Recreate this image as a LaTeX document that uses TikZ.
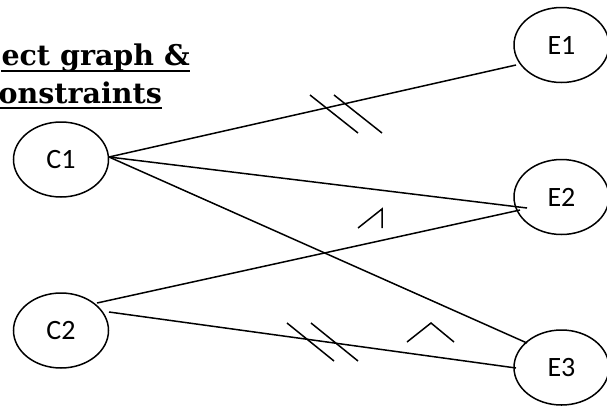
\documentclass[tikz,border=0pt]{standalone}
\usepackage{fontspec}
\setmainfont{Carlito}
\newfontfamily\titlefont{DejaVu Serif}
\usetikzlibrary{shapes.geometric}
\begin{document}
\begin{tikzpicture}[x=1pt,y=-1pt,
  oval/.style={ellipse,draw,line width=1.5pt,minimum width=95pt,minimum height=75pt,inner sep=0pt,font=\fontsize{28}{32}\selectfont},
  conn/.style={line width=1.5pt},
  tick/.style={line width=1.5pt},
  ttl/.style={inner sep=0pt,font=\titlefont\bfseries\fontsize{28.5}{33}\selectfont}]
\useasboundingbox (0,0) rectangle (607,405);
\clip (0,0) rectangle (607,405);
% title
\node[ttl,anchor=base east] (t1) at (190,65) {ect graph \&};
\node[ttl,anchor=base east] (t2) at (162,103) {onstraints};
\draw[line width=2pt] ([yshift=-6pt]t1.base west) -- ([yshift=-6pt]t1.base east);
\draw[line width=2pt] ([yshift=-5pt]t2.base west) -- ([yshift=-5pt]t2.base east);
% nodes
\node[oval] (C1) at (61,159.5) {C1};
\node[oval] (C2) at (61,330.5) {C2};
\node[oval] (E1) at (561.5,45) {E1};
\node[oval] (E2) at (561.5,197) {E2};
\node[oval] (E3) at (561.5,367.5) {E3};
% connector end points
\coordinate (c1o) at (109,157);
\coordinate (c2a) at (97,303);
\coordinate (c2b) at (109,312);
\coordinate (e1i) at (516,65);
\coordinate (e2a) at (527,208);
\coordinate (e2b) at (520,210);
\coordinate (e3a) at (527,343);
\coordinate (e3b) at (516,368);
% connectors
\draw[conn] (c1o) -- (e1i);
\draw[conn] (c1o) -- (e2a);
\draw[conn] (c1o) -- (e3a);
\draw[conn] (c2a) -- (e2b);
\draw[conn] (c2b) -- (e3b);
% constraint marks
\draw[tick] (310,95) -- (358,133);
\draw[tick] (334,95) -- (382,133);
\draw[tick] (358,228) -- (382,209) -- (382,228);
\draw[tick] (287,323) -- (334,361);
\draw[tick] (311,323) -- (358,361);
\draw[tick] (407,342) -- (431,323) -- (454,342);
\end{tikzpicture}
\end{document}
